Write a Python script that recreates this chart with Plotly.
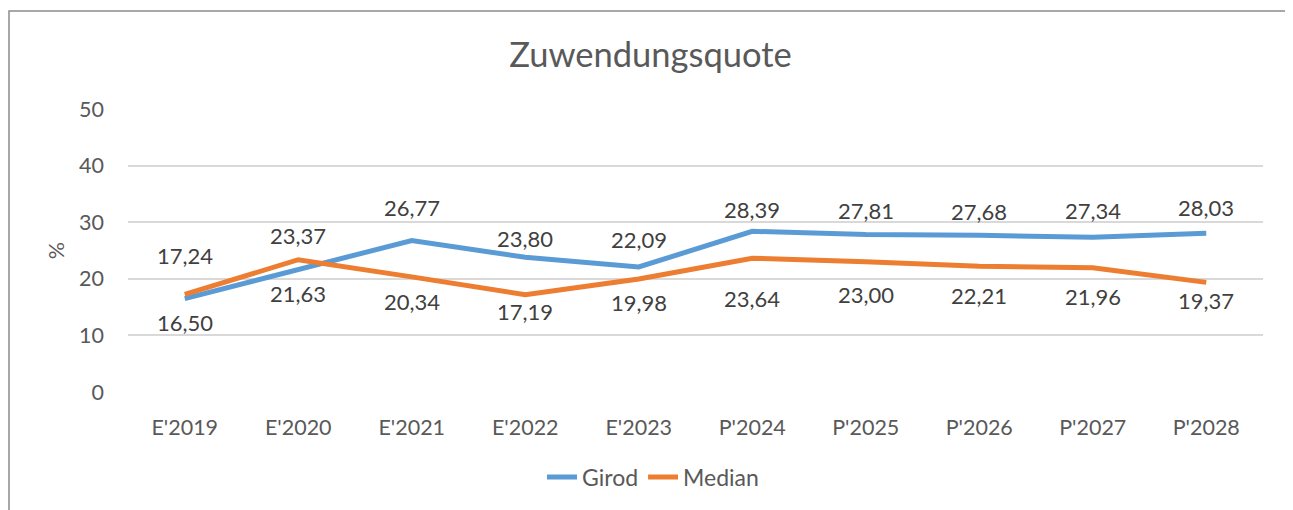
import plotly.graph_objects as go

categories = ["E'2019", "E'2020", "E'2021", "E'2022", "E'2023", "P'2024", "P'2025", "P'2026", "P'2027", "P'2028"]
girod = [16.50, 21.63, 26.77, 23.80, 22.09, 28.39, 27.81, 27.68, 27.34, 28.03]
median = [17.24, 23.37, 20.34, 17.19, 19.98, 23.64, 23.00, 22.21, 21.96, 19.37]

# label offsets in pixels (positive = above the line point)
girod_label_shift = [-24, -24, 33, 19, 27, 22, 24, 24, 27, 26]
median_label_shift = [39, 24, -25, -17, -24, -40, -33, -29, -29, -18]

FONT = "Lato"
TXT = "#404040"
AX = "#595959"

fig = go.Figure()
fig.add_trace(go.Scatter(x=categories, y=girod, name="Girod", mode="lines",
                         line=dict(color="#5B9BD5", width=5)))
fig.add_trace(go.Scatter(x=categories, y=median, name="Median", mode="lines",
                         line=dict(color="#ED7D31", width=5)))

annotations = []
for vals, shifts in ((girod, girod_label_shift), (median, median_label_shift)):
    for c, v, s in zip(categories, vals, shifts):
        annotations.append(dict(x=c, y=v, xref="x", yref="y", text=f"{v:.2f}".replace(".", ","),
                                showarrow=False, yshift=s, xanchor="center", yanchor="middle",
                                font=dict(family=FONT, size=22, color=TXT)))

W, H = 1285, 502
L, R, T, B = 120, 30, 101, 115
pw, ph = W - L - R, H - T - B

fig.update_layout(
    width=W, height=H,
    margin=dict(l=L, r=R, t=T, b=B),
    paper_bgcolor="white", plot_bgcolor="white",
    separators=",.",
    font=dict(family=FONT, color=AX),
    title=dict(text="Zuwendungsquote", x=0.5, xanchor="center", y=1 - 47 / H, yanchor="middle",
               font=dict(family=FONT, size=34.5, color=AX)),
    showlegend=True,
    legend=dict(orientation="h", x=(645 - L) / pw, xanchor="center", y=(T + ph - 473) / ph, yanchor="middle",
                font=dict(family=FONT, size=23, color=AX), traceorder="normal"),
    xaxis=dict(type="category", range=[-0.5, 9.5], showgrid=False, showline=False, zeroline=False,
               ticks="", tickfont=dict(family=FONT, size=21.5, color=AX), ticklabelstandoff=20),
    yaxis=dict(range=[0, 50], dtick=10, showgrid=True, gridcolor="#D9D9D9", gridwidth=2,
               zeroline=False, showline=False, ticks="",
               tickfont=dict(family=FONT, size=21.5, color=AX), ticklabelstandoff=23,
               title=dict(text="%", font=dict(family=FONT, size=21.5, color=AX), standoff=8)),
    annotations=annotations,
    shapes=[dict(type="rect", xref="paper", yref="paper",
                 x0=(1 - L) / pw, x1=(1279 - L) / pw,
                 y0=(T + ph - 520) / ph, y1=(T + ph - 2) / ph,
                 line=dict(color="#8C8C8C", width=1.5), fillcolor="rgba(0,0,0,0)", layer="below")],
)

fig.write_html("out.html")
